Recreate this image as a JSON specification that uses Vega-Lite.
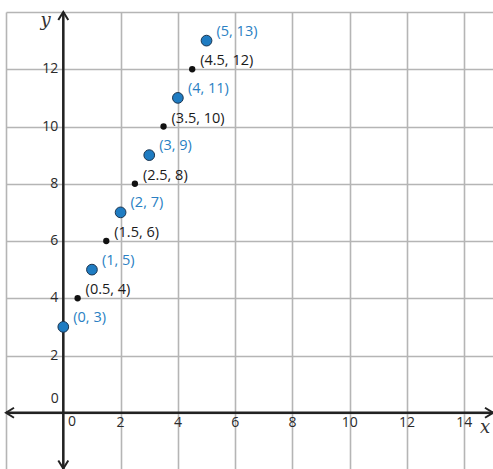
{
  "$schema": "https://vega.github.io/schema/vega-lite/v6.json",
  "width": 487,
  "height": 458,
  "autosize": {"type": "none"},
  "padding": {"left": 6, "top": 12, "right": 0, "bottom": 0},
  "background": "white",
  "config": {"view": {"stroke": null}},
  "datasets": {
    "pts": [
      {"x": 0, "y": 3, "kind": "whole", "label": "(0, 3)"},
      {"x": 0.5, "y": 4, "kind": "half", "label": "(0.5, 4)"},
      {"x": 1, "y": 5, "kind": "whole", "label": "(1, 5)"},
      {"x": 1.5, "y": 6, "kind": "half", "label": "(1.5, 6)"},
      {"x": 2, "y": 7, "kind": "whole", "label": "(2, 7)"},
      {"x": 2.5, "y": 8, "kind": "half", "label": "(2.5, 8)"},
      {"x": 3, "y": 9, "kind": "whole", "label": "(3, 9)"},
      {"x": 3.5, "y": 10, "kind": "half", "label": "(3.5, 10)"},
      {"x": 4, "y": 11, "kind": "whole", "label": "(4, 11)"},
      {"x": 4.5, "y": 12, "kind": "half", "label": "(4.5, 12)"},
      {"x": 5, "y": 13, "kind": "whole", "label": "(5, 13)"}
    ],
    "axislines": [
      {"x1": -2, "x2": 15, "y1": 0, "y2": 0},
      {"x1": 0, "x2": 0, "y1": -2.1, "y2": 14}
    ],
    "arrows": [
      {"x": 15, "y": 0, "dir": "right"},
      {"x": -2, "y": 0, "dir": "left"},
      {"x": 0, "y": 14, "dir": "up"},
      {"x": 0, "y": -1.95, "dir": "down"}
    ],
    "xticks": [
      {"v": 2, "t": "2"}, {"v": 4, "t": "4"}, {"v": 6, "t": "6"}, {"v": 8, "t": "8"},
      {"v": 10, "t": "10"}, {"v": 12, "t": "12"}, {"v": 14, "t": "14"}
    ],
    "yticks": [
      {"v": 2, "t": "2"}, {"v": 4, "t": "4"}, {"v": 6, "t": "6"}, {"v": 8, "t": "8"},
      {"v": 10, "t": "10"}, {"v": 12, "t": "12"}
    ],
    "zeros": [
      {"x": 0.3, "y": -0.32, "t": "0"},
      {"x": -0.3, "y": 0.48, "t": "0"}
    ],
    "names": [
      {"x": -0.62, "y": 13.68, "t": "y"},
      {"x": 14.72, "y": -0.55, "t": "x"}
    ]
  },
  "layer": [
    {
      "data": {"name": "axislines"},
      "mark": {"type": "rule", "color": "#222", "strokeWidth": 2.5},
      "encoding": {
        "x": {"field": "x1", "type": "quantitative",
          "scale": {"domain": [-2, 15], "nice": false, "zero": false},
          "axis": {"values": [-2,-1,0,1,2,3,4,5,6,7,8,9,10,11,12,13,14,15], "grid": true, "gridColor": "#b5b5b5", "gridWidth": 1.6, "gridOpacity": 1, "labels": false, "ticks": false, "domain": false, "title": null}},
        "x2": {"field": "x2"},
        "y": {"field": "y1", "type": "quantitative",
          "scale": {"domain": [-2, 14], "nice": false, "zero": false},
          "axis": {"values": [-2,-1,0,1,2,3,4,5,6,7,8,9,10,11,12,13,14], "grid": true, "gridColor": "#b5b5b5", "gridWidth": 1.6, "gridOpacity": 1, "labels": false, "ticks": false, "domain": false, "title": null}},
        "y2": {"field": "y2"}
      }
    },
    {
      "data": {"name": "arrows"},
      "transform": [{"filter": "datum.dir === 'right'"}],
      "mark": {"type": "point", "filled": false, "shape": "M-0.8,-0.5L0,0L-0.8,0.5", "size": 400, "stroke": "#222", "strokeWidth": 2, "opacity": 1, "angle": 0},
      "encoding": {"x": {"field": "x", "type": "quantitative"}, "y": {"field": "y", "type": "quantitative"}}
    },
    {
      "data": {"name": "arrows"},
      "transform": [{"filter": "datum.dir === 'left'"}],
      "mark": {"type": "point", "filled": false, "shape": "M0.8,-0.5L0,0L0.8,0.5", "size": 400, "stroke": "#222", "strokeWidth": 2, "opacity": 1},
      "encoding": {"x": {"field": "x", "type": "quantitative"}, "y": {"field": "y", "type": "quantitative"}}
    },
    {
      "data": {"name": "arrows"},
      "transform": [{"filter": "datum.dir === 'up'"}],
      "mark": {"type": "point", "filled": false, "shape": "M-0.5,0.8L0,0L0.5,0.8", "size": 400, "stroke": "#222", "strokeWidth": 2, "opacity": 1},
      "encoding": {"x": {"field": "x", "type": "quantitative"}, "y": {"field": "y", "type": "quantitative"}}
    },
    {
      "data": {"name": "arrows"},
      "transform": [{"filter": "datum.dir === 'down'"}],
      "mark": {"type": "point", "filled": false, "shape": "M-0.5,-0.8L0,0L0.5,-0.8", "size": 400, "stroke": "#222", "strokeWidth": 2, "opacity": 1},
      "encoding": {"x": {"field": "x", "type": "quantitative"}, "y": {"field": "y", "type": "quantitative"}}
    },
    {
      "data": {"name": "pts"},
      "transform": [{"filter": "datum.kind === 'half'"}],
      "mark": {"type": "point", "filled": true, "color": "#111", "size": 40, "opacity": 1},
      "encoding": {
        "x": {"field": "x", "type": "quantitative"},
        "y": {"field": "y", "type": "quantitative"}
      }
    },
    {
      "data": {"name": "pts"},
      "transform": [{"filter": "datum.kind === 'whole'"}],
      "mark": {"type": "point", "filled": true, "fill": "#1f7cc2", "stroke": "#1c3550", "strokeWidth": 1, "size": 115, "opacity": 1},
      "encoding": {
        "x": {"field": "x", "type": "quantitative"},
        "y": {"field": "y", "type": "quantitative"}
      }
    },
    {
      "data": {"name": "pts"},
      "transform": [{"filter": "datum.kind === 'half'"}],
      "mark": {"type": "text", "align": "left", "baseline": "middle", "dx": 8, "dy": -8, "font": "Open Sans", "fontSize": 14.5, "color": "#1a1a1a"},
      "encoding": {
        "x": {"field": "x", "type": "quantitative"},
        "y": {"field": "y", "type": "quantitative"},
        "text": {"field": "label"}
      }
    },
    {
      "data": {"name": "pts"},
      "transform": [{"filter": "datum.kind === 'whole'"}],
      "mark": {"type": "text", "align": "left", "baseline": "middle", "dx": 10, "dy": -9, "font": "Open Sans", "fontSize": 14.5, "color": "#2a7fc3"},
      "encoding": {
        "x": {"field": "x", "type": "quantitative"},
        "y": {"field": "y", "type": "quantitative"},
        "text": {"field": "label"}
      }
    },
    {
      "data": {"name": "xticks"},
      "mark": {"type": "text", "align": "center", "baseline": "middle", "dy": 10, "font": "Open Sans", "fontSize": 14, "color": "#2a2a2a"},
      "encoding": {
        "x": {"field": "v", "type": "quantitative"},
        "y": {"datum": 0, "type": "quantitative"},
        "text": {"field": "t"}
      }
    },
    {
      "data": {"name": "yticks"},
      "mark": {"type": "text", "align": "right", "baseline": "middle", "dx": -5, "font": "Open Sans", "fontSize": 14, "color": "#2a2a2a"},
      "encoding": {
        "x": {"datum": 0, "type": "quantitative"},
        "y": {"field": "v", "type": "quantitative"},
        "text": {"field": "t"}
      }
    },
    {
      "data": {"name": "zeros"},
      "mark": {"type": "text", "align": "center", "baseline": "middle", "font": "Open Sans", "fontSize": 14, "color": "#2a2a2a"},
      "encoding": {
        "x": {"field": "x", "type": "quantitative"},
        "y": {"field": "y", "type": "quantitative"},
        "text": {"field": "t"}
      }
    },
    {
      "data": {"name": "names"},
      "mark": {"type": "text", "align": "center", "baseline": "middle", "font": "DejaVu Serif", "fontStyle": "italic", "fontSize": 18, "color": "#333"},
      "encoding": {
        "x": {"field": "x", "type": "quantitative"},
        "y": {"field": "y", "type": "quantitative"},
        "text": {"field": "t"}
      }
    }
  ]
}
